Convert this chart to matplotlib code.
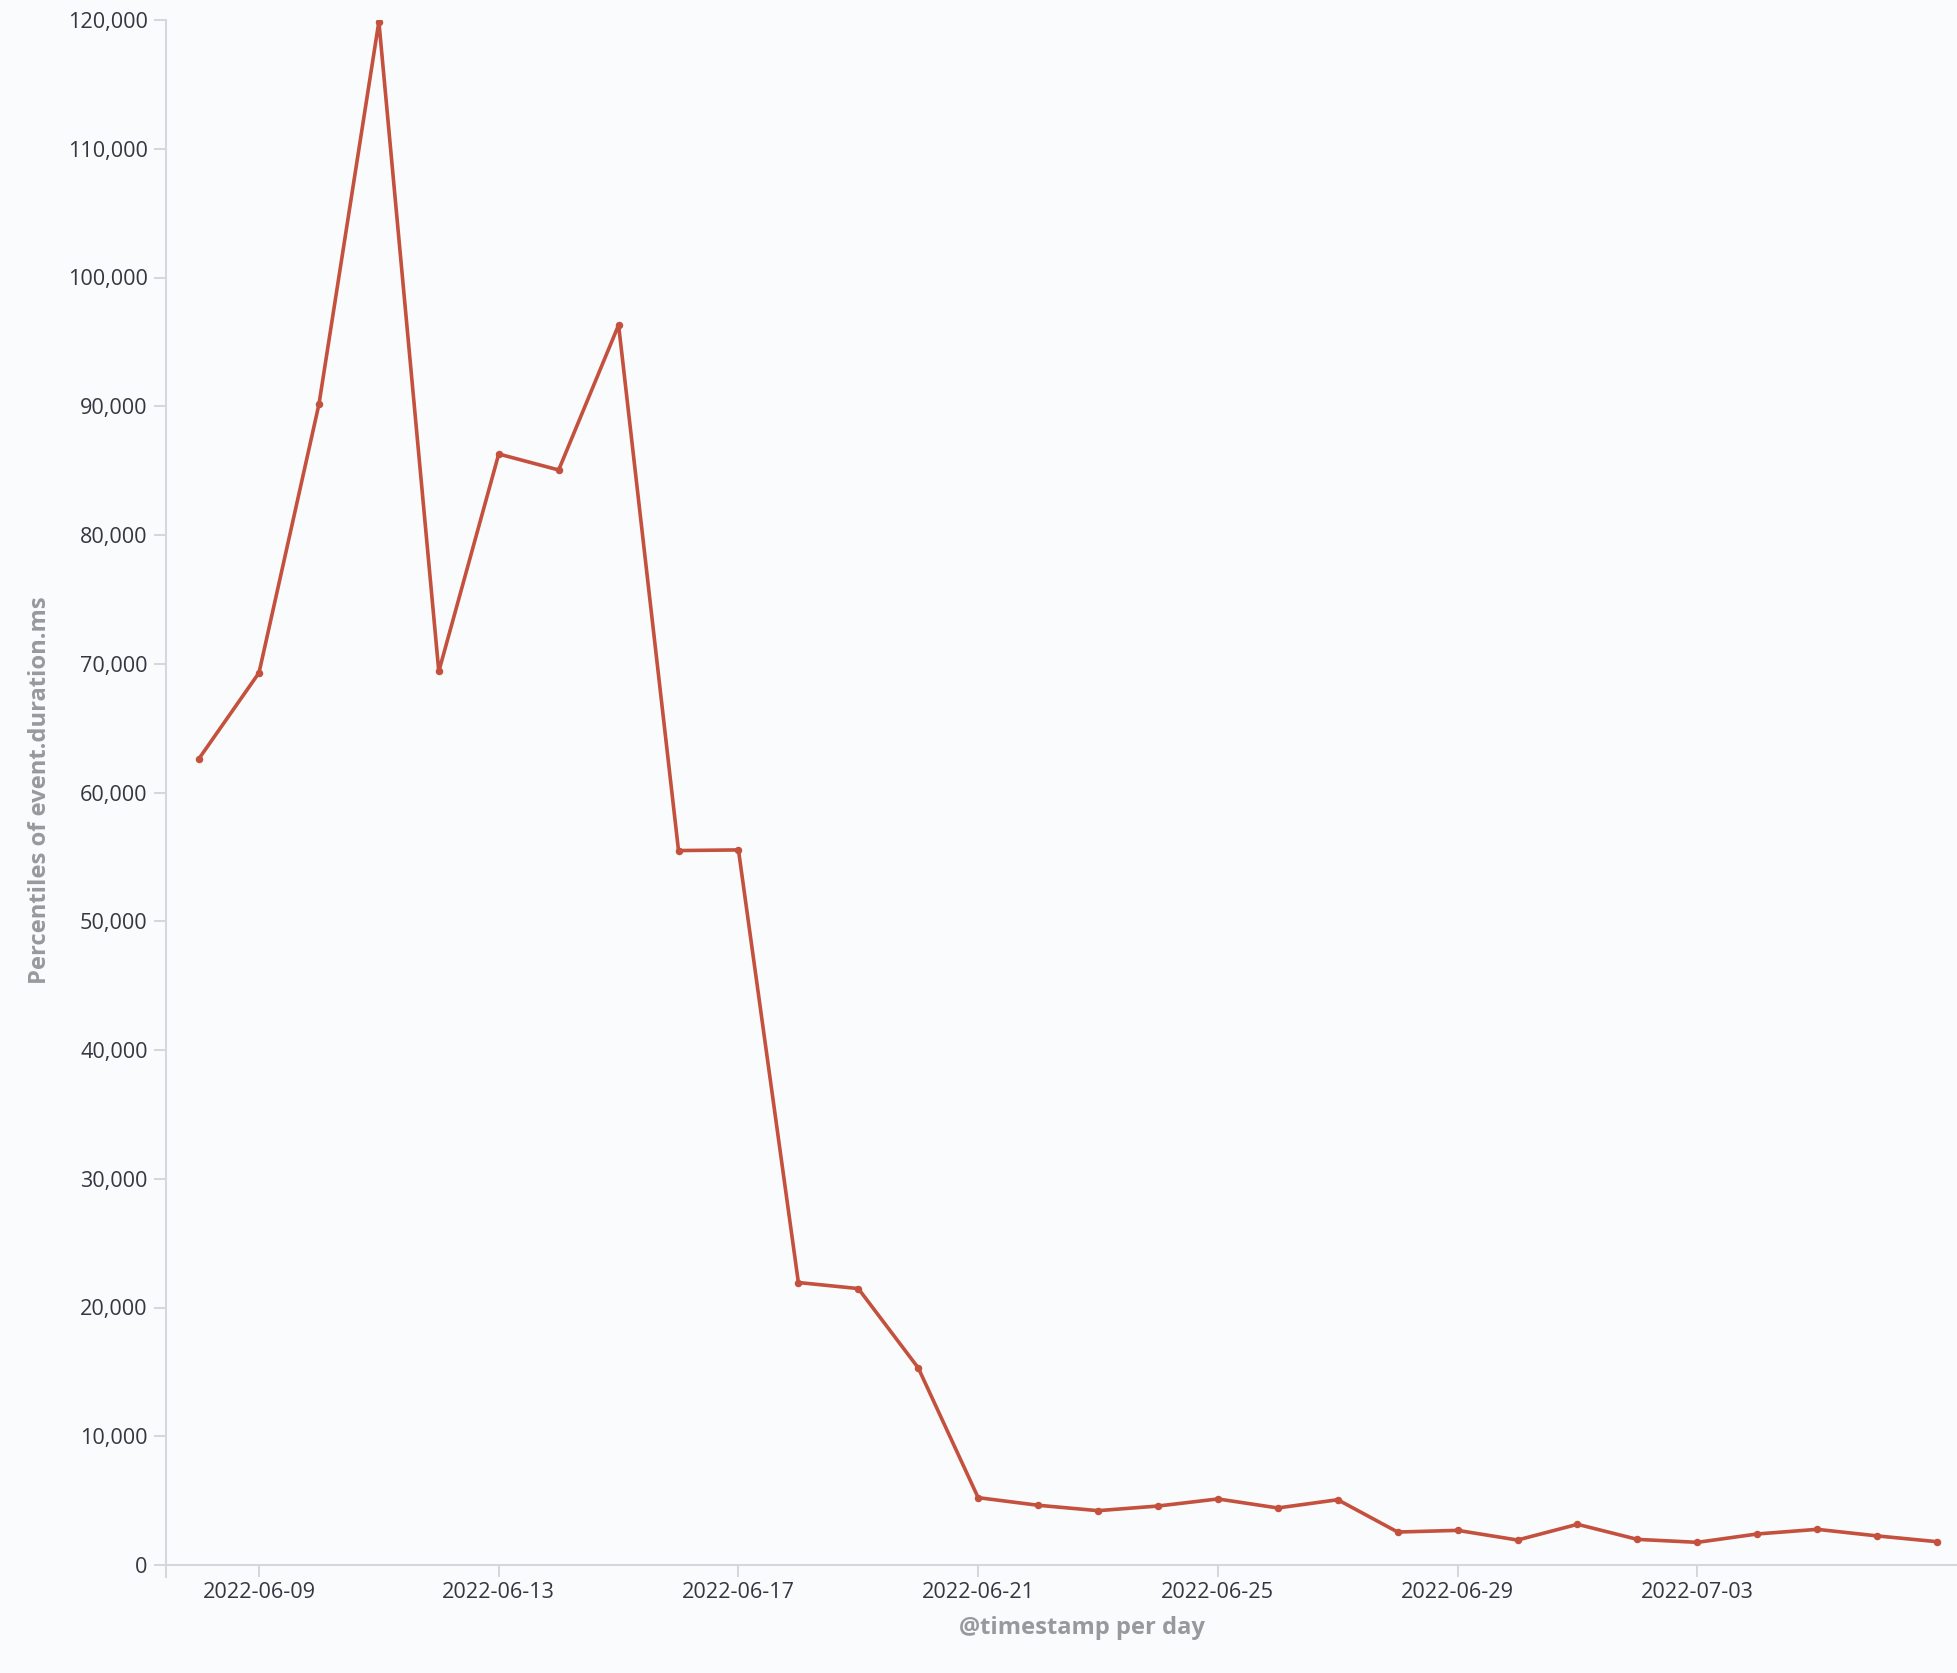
import matplotlib
matplotlib.use("Agg")
import matplotlib.pyplot as plt
import matplotlib.dates as mdates
from matplotlib.ticker import FuncFormatter
import numpy as np
import pandas as pd

plt.rcParams['font.family'] = ['Open Sans', 'DejaVu Sans']

# ---- data ----
start_date = "2022-06-08"
end_date = "2022-07-07"
dates = pd.date_range(start_date, end_date, freq="D")
p_values = [
    62640, 69300, 90150, 119870, 69400, 86290, 85050, 96310,
    55490, 55540, 21940, 21470, 15310,
    5230, 4640, 4220, 4580, 5130, 4430, 5070,
    2560, 2690, 1940, 3160, 1990, 1760, 2410, 2770, 2260, 1810,
]
x_tick_dates = ["2022-06-09", "2022-06-13", "2022-06-17", "2022-06-21",
                "2022-06-25", "2022-06-29", "2022-07-03"]
x_title = "@timestamp per day"
y_title = "Percentiles of event.duration.ms"

# ---- style ----
bg = "#fafbfd"
axis_col = "#d6d7da"
tick_col = "#343741"
title_col = "#98999c"
line_col = "#c4503e"

W, H = 1957, 1673
fig = plt.figure(figsize=(W / 100, H / 100), dpi=100, facecolor=bg)

left_px, right_px, top_px, bottom_px = 165.7, 1957, 20, 1577
ax = fig.add_axes([left_px / W, 1 - bottom_px / H,
                   (right_px - left_px) / W, (bottom_px - top_px) / H])
ax.set_facecolor(bg)

ax.plot(dates, p_values, color=line_col, lw=2.6, marker='o', markersize=5.4,
        markeredgewidth=0, solid_joinstyle='round', zorder=3)

# y axis
ymax = 120000
ppk = (bottom_px - 12 - top_px) / ymax
ymin = -12 / ppk
ax.set_ylim(ymin, ymax)
ax.set_yticks(np.arange(0, ymax + 1, 10000))
ax.yaxis.set_major_formatter(FuncFormatter(lambda v, p: f"{int(round(v)):,}"))

# x axis
x0 = mdates.date2num(pd.Timestamp(start_date)) - 0.557
x1 = x0 + (right_px - left_px) / 59.93
ax.set_xlim(x0, x1)
ax.set_xticks(mdates.date2num(pd.to_datetime(x_tick_dates)))
ax.xaxis.set_major_formatter(mdates.DateFormatter('%Y-%m-%d'))

for s in ['top', 'right', 'bottom']:
    ax.spines[s].set_visible(False)
ax.spines['left'].set_color(axis_col)
ax.spines['left'].set_linewidth(1.45)
ax.axhline(0, color=axis_col, lw=1.45, zorder=1)

ax.tick_params(axis='y', direction='out', length=8.6, width=1.45, color=axis_col,
               labelcolor=tick_col, labelsize=15.6, pad=4.5)
ax.tick_params(axis='x', direction='in', length=8.6, width=1.45, color=axis_col,
               labelcolor=tick_col, labelsize=15.6, pad=3.5)

fig.text(1082 / W, 1 - 1628 / H, x_title, ha='center', va='center',
         fontsize=17.1, fontweight='bold', color=title_col)
fig.text(40 / W, 1 - 790 / H, y_title, ha='center', va='center', rotation=90,
         fontsize=17.1, fontweight='bold', color=title_col)

fig.savefig("out.png", dpi=100, facecolor=bg)
